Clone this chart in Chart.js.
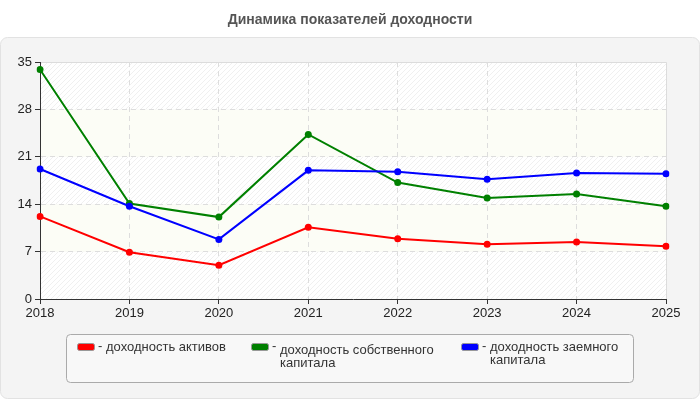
<!DOCTYPE html>
<html>
<head>
<meta charset="utf-8">
<script src="https://cdn.jsdelivr.net/npm/chart.js@4/dist/chart.umd.min.js"></script>
<style>
html,body{margin:0;padding:0;background:#fff;}
#wrap{position:relative;width:700px;height:400px;}
</style>
</head>
<body>
<div id="wrap"><canvas id="c" width="700" height="400"></canvas></div>
<script>
const title = 'Динамика показателей доходности';
const years = ['2018','2019','2020','2021','2022','2023','2024','2025'];
const assetsReturn = [12.2, 6.9, 5.0, 10.6, 8.9, 8.1, 8.4, 7.8];
const equityReturn = [33.9, 14.1, 12.1, 24.3, 17.2, 14.9, 15.5, 13.7];
const debtReturn = [19.2, 13.7, 8.8, 19.0, 18.8, 17.7, 18.6, 18.5];
const seriesNames = [['доходность активов'], ['доходность собственного', 'капитала'], ['доходность заемного', 'капитала']];
const seriesColors = ['#ff0000', '#008000', '#0000ff'];
const yMin = 0, yMax = 35, yStep = 7;

const FONT = '"Liberation Sans", Arial, sans-serif';

function roundRect(ctx, x, y, w, h, r) {
  ctx.beginPath();
  ctx.moveTo(x + r, y);
  ctx.lineTo(x + w - r, y);
  ctx.arcTo(x + w, y, x + w, y + r, r);
  ctx.lineTo(x + w, y + h - r);
  ctx.arcTo(x + w, y + h, x + w - r, y + h, r);
  ctx.lineTo(x + r, y + h);
  ctx.arcTo(x, y + h, x, y + h - r, r);
  ctx.lineTo(x, y + r);
  ctx.arcTo(x, y, x + r, y, r);
  ctx.closePath();
}

function makeHatch() {
  const c = document.createElement('canvas');
  c.width = 5; c.height = 5;
  const g = c.getContext('2d');
  g.fillStyle = '#ffffff';
  g.fillRect(0, 0, 5, 5);
  g.strokeStyle = 'rgba(0,0,0,0.06)';
  g.lineWidth = 1;
  g.beginPath();
  g.moveTo(-1, 6); g.lineTo(6, -1);
  g.moveTo(-1, 1); g.lineTo(1, -1);
  g.moveTo(4, 6); g.lineTo(6, 4);
  g.stroke();
  return c;
}

const bgPlugin = {
  id: 'bg',
  beforeDraw(chart) {
    const ctx = chart.ctx;
    const a = chart.chartArea;
    const ys = chart.scales.y;
    ctx.save();
    ctx.fillStyle = '#ffffff';
    ctx.fillRect(0, 0, 700, 400);
    roundRect(ctx, 0.5, 37.5, 699, 361, 7);
    ctx.fillStyle = '#f4f4f4';
    ctx.fill();
    ctx.strokeStyle = '#e2e2e2';
    ctx.lineWidth = 1;
    ctx.stroke();
    ctx.fillStyle = '#555555';
    ctx.font = 'bold 14px ' + FONT;
    ctx.textAlign = 'center';
    ctx.textBaseline = 'middle';
    ctx.fillText(title, 350, 20);
    const pat = ctx.createPattern(makeHatch(), 'repeat');
    for (let v = yMin, i = 0; v < yMax; v += yStep, i++) {
      const yTop = ys.getPixelForValue(v + yStep);
      const yBot = ys.getPixelForValue(v);
      ctx.fillStyle = (i % 2 === 0) ? pat : '#fcfdf6';
      ctx.fillRect(a.left, yTop, a.right - a.left, yBot - yTop);
    }
    ctx.strokeStyle = '#dcdcdc';
    ctx.beginPath();
    ctx.moveTo(a.left, Math.round(a.top) + 0.5);
    ctx.lineTo(Math.round(a.right) + 0.5, Math.round(a.top) + 0.5);
    ctx.lineTo(Math.round(a.right) + 0.5, a.bottom);
    ctx.stroke();
    ctx.restore();
  },
  afterDraw(chart) {
    const ctx = chart.ctx;
    ctx.save();
    roundRect(ctx, 66.5, 334.5, 567, 48, 4);
    ctx.fillStyle = '#f8f8f8';
    ctx.fill();
    ctx.strokeStyle = '#aaaaaa';
    ctx.lineWidth = 1;
    ctx.stroke();
    const itemX = [77, 251, 461];
    const itemY = [347, 350, 347];
    ctx.font = '13px ' + FONT;
    ctx.textAlign = 'left';
    ctx.textBaseline = 'middle';
    for (let i = 0; i < seriesNames.length; i++) {
      const x = itemX[i];
      roundRect(ctx, x + 0.5, 343.5, 17, 7, 2);
      ctx.fillStyle = seriesColors[i];
      ctx.fill();
      ctx.strokeStyle = '#999999';
      ctx.stroke();
      ctx.fillStyle = '#333333';
      const lines = seriesNames[i];
      ctx.fillText('-', x + 21, 346);
      for (let k = 0; k < lines.length; k++) {
        ctx.fillText(lines[k], x + 29, itemY[i] + k * 13);
      }
    }
    ctx.restore();
  }
};

const mk = (data, i, order) => ({
  data: data,
  borderColor: seriesColors[i],
  backgroundColor: seriesColors[i],
  borderWidth: 2,
  pointRadius: 3.5,
  pointHoverRadius: 3.5,
  pointBorderWidth: 0,
  tension: 0,
  order: order
});

new Chart(document.getElementById('c'), {
  type: 'line',
  data: {
    labels: years,
    datasets: [mk(assetsReturn, 0, 3), mk(equityReturn, 1, 2), mk(debtReturn, 2, 1)]
  },
  options: {
    responsive: false,
    animation: false,
    events: [],
    layout: { padding: { left: 0, right: 34, top: 62, bottom: 0 } },
    plugins: { legend: { display: false }, tooltip: { enabled: false }, title: { display: false } },
    scales: {
      x: {
        type: 'category',
        offset: false,
        afterFit(s) { s.height = 101; },
        grid: {
          color: (c) => (c.index === 0 || c.index === years.length - 1) ? 'rgba(0,0,0,0)' : '#dddddd',
          lineWidth: 1,
          drawTicks: true,
          tickLength: 5,
          tickColor: '#333333'
        },
        border: { display: true, color: '#333333', width: 1, dash: [5, 4] },
        ticks: { color: '#222222', font: { family: FONT, size: 13 }, padding: 2, maxRotation: 0, autoSkip: false }
      },
      y: {
        min: yMin,
        max: yMax,
        afterFit(s) { s.width = 40; },
        grid: {
          color: (c) => (c.tick && (c.tick.value === yMax || c.tick.value === yMin)) ? 'rgba(0,0,0,0)' : '#dddddd',
          lineWidth: 1,
          drawTicks: true,
          tickLength: 5,
          tickColor: '#333333'
        },
        border: { display: true, color: '#333333', width: 1, dash: [5, 4] },
        ticks: { stepSize: yStep, color: '#222222', font: { family: FONT, size: 13 }, padding: 3 }
      }
    }
  },
  plugins: [bgPlugin]
});
</script>
</body>
</html>
